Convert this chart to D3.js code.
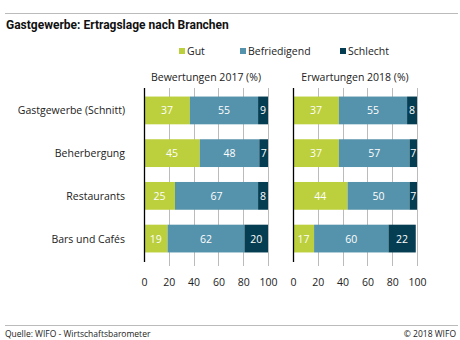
<!DOCTYPE html>
<html><head><meta charset="utf-8">
<script src="https://cdn.jsdelivr.net/npm/d3@7"></script>
<style>body{margin:0;background:#fff}svg{display:block}text{font-family:"Open Sans","Liberation Sans",sans-serif}</style>
</head><body>
<script>
const categories = ["Gastgewerbe (Schnitt)", "Beherbergung", "Restaurants", "Bars und Cafés"];
const seriesNames = ["Gut", "Befriedigend", "Schlecht"];
const colors = ["#bccf3c", "#5592ab", "#053e52"];
const panelTitles = ["Bewertungen 2017 (%)", "Erwartungen 2018 (%)"];
const gut2017 = [37, 45, 25, 19];
const befr2017 = [55, 48, 67, 62];
const schl2017 = [9, 7, 8, 20];
const gut2018 = [37, 37, 44, 17];
const befr2018 = [55, 57, 50, 60];
const schl2018 = [8, 7, 7, 22];
const ticks = [0, 20, 40, 60, 80, 100];

const W = 460, H = 340;
const svg = d3.select("body").append("svg").attr("width", W).attr("height", H);

svg.append("line").attr("x1", 5).attr("x2", 458).attr("y1", 13.5).attr("y2", 13.5).attr("stroke", "#bbb");
svg.append("line").attr("x1", 5).attr("x2", 458).attr("y1", 325.5).attr("y2", 325.5).attr("stroke", "#bbb");
svg.append("text").attr("x", 6).attr("y", 29).attr("font-size", 12).attr("font-weight", "bold").attr("fill", "#111")
  .style("font-family", "Roboto, sans-serif")
  .text("Gastgewerbe: Ertragslage nach Branchen");
svg.append("text").attr("x", 5).attr("y", 337).attr("font-size", 8.5).attr("fill", "#222").text("Quelle: WIFO - Wirtschaftsbarometer");
svg.append("text").attr("x", 456).attr("y", 337).attr("text-anchor", "end").attr("font-size", 8.5).attr("fill", "#222").text("© 2018 WIFO");

// legend
const legX = [179, 240, 340];
seriesNames.forEach((n, i) => {
  svg.append("rect").attr("x", legX[i]).attr("y", 48).attr("width", 6).attr("height", 6).attr("fill", colors[i]);
  svg.append("text").attr("x", legX[i] + 8).attr("y", 55).attr("font-size", 10.5).attr("fill", "#222").text(n);
});

const y = d3.scaleBand().domain(categories).range([88, 261]).paddingInner(0.35).paddingOuter(0.2);

// category labels
categories.forEach(c => {
  svg.append("text").attr("x", 125).attr("y", y(c) + y.bandwidth() / 2 + 4).attr("text-anchor", "end")
    .attr("font-size", 10.5).attr("fill", "#222").text(c);
});

const panels = [
  {x0: 144, data: [gut2017, befr2017, schl2017]},
  {x0: 293, data: [gut2018, befr2018, schl2018]}
];

panels.forEach((p, pi) => {
  const x = d3.scaleLinear().domain([0, 100]).range([p.x0, p.x0 + 124]);
  const g = svg.append("g");
  svg.append("text").attr("x", (x(0) + x(100)) / 2).attr("y", 81).attr("text-anchor", "middle")
    .attr("font-size", 10.5).attr("fill", "#222").text(panelTitles[pi]);
  // grid
  ticks.slice(1).forEach(t => {
    g.append("line").attr("x1", Math.round(x(t)) + 0.5).attr("x2", Math.round(x(t)) + 0.5)
      .attr("y1", 88).attr("y2", 266).attr("stroke", "#bbb").attr("stroke-width", 1);
  });
  // bars
  const rows = categories.map((c, i) => ({c, vals: p.data.map(s => s[i])}));
  rows.forEach(r => {
    let acc = 0;
    r.vals.forEach((v, si) => {
      const xs = x(acc), xe = x(acc + v);
      g.append("rect").attr("x", xs).attr("y", y(r.c)).attr("width", Math.max(0, Math.min(xe, x(100)) - xs))
        .attr("height", y.bandwidth()).attr("fill", colors[si]);
      g.append("text").attr("x", (xs + Math.min(xe, x(100))) / 2).attr("y", y(r.c) + y.bandwidth() / 2 + 4)
        .attr("text-anchor", "middle").attr("font-size", 10.5).attr("fill", "#fff").text(v);
      acc += v;
    });
  });
  // axis line
  g.append("line").attr("x1", x(0) + 0.5).attr("x2", x(0) + 0.5).attr("y1", 88).attr("y2", 262)
    .attr("stroke", "#000").attr("stroke-width", 1.3);
  // tick labels
  const ax = svg.append("g").attr("transform", "translate(0,279)")
    .call(d3.axisBottom(x).tickValues(ticks).tickSize(0).tickPadding(0));
  ax.select(".domain").remove();
  ax.selectAll("text").attr("font-size", 10.5).attr("fill", "#222").attr("dy", "0.71em")
    .style("font-family", '"Open Sans","Liberation Sans",sans-serif');
});
</script>
</body></html>
